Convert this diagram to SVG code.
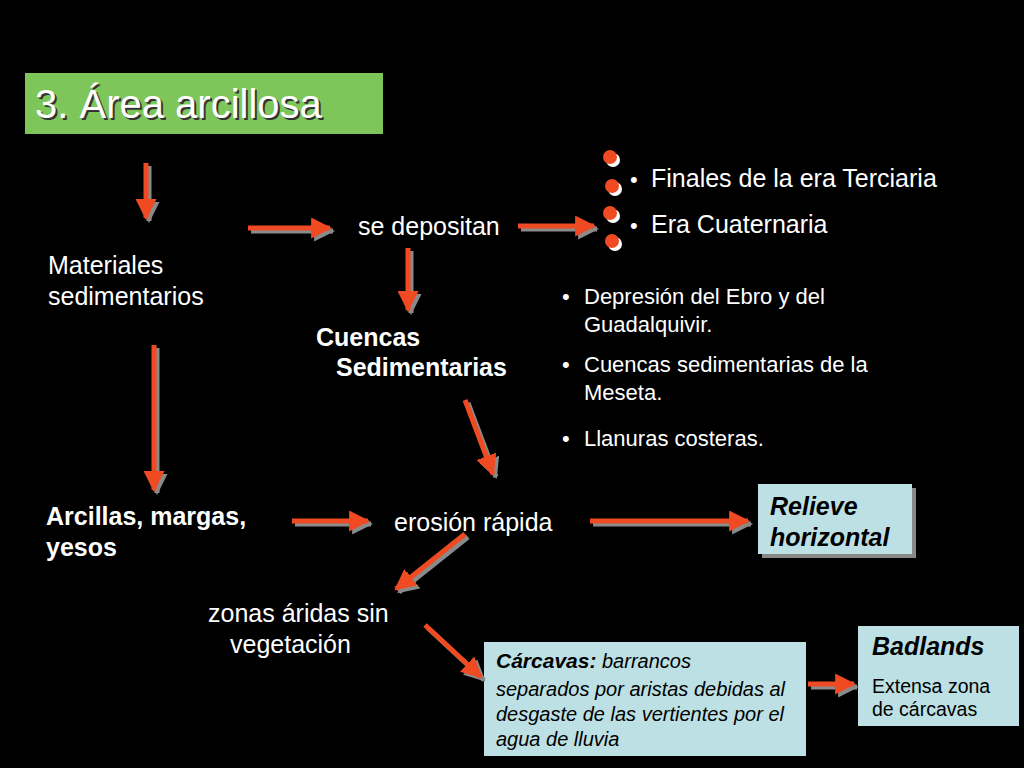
<svg xmlns="http://www.w3.org/2000/svg" width="1024" height="768" viewBox="0 0 1024 768">
<defs>
<marker id="h" viewBox="0 0 10 10" refX="9" refY="5" markerWidth="4.2" markerHeight="4.2" markerUnits="strokeWidth" orient="auto"><path d="M0,0L10,5L0,10z" fill="#f04a22"/></marker>
<marker id="hs" viewBox="0 0 10 10" refX="9" refY="5" markerWidth="4.2" markerHeight="4.2" markerUnits="strokeWidth" orient="auto"><path d="M0,0L10,5L0,10z" fill="#8a8a8a"/></marker>
</defs>
<style>
text{font-family:"Liberation Sans",Arial,sans-serif;fill:#fff}
.s{stroke:#8a8a8a;stroke-width:5;marker-end:url(#hs);fill:none}
.a{stroke:#f04a22;stroke-width:5;marker-end:url(#h);fill:none}
.t{font-size:25px}
.b{font-size:25px;font-weight:bold}
.m{font-size:22px}
.k{fill:#000}
</style>
<rect width="1024" height="768" fill="#000"/>
<g id="title"><rect x="25" y="73" width="358" height="61" fill="#7fc65a"/>
<text x="37" y="120" font-size="40" style="fill:#333">3. Área arcillosa</text>
<text x="35" y="118" font-size="40">3. Área arcillosa</text></g>
<g id="dots" fill="#fff">
<circle cx="613" cy="160" r="7"/><circle cx="615" cy="189" r="7"/><circle cx="613" cy="216" r="7"/><circle cx="615" cy="244" r="7"/>
<g fill="#f04a22"><circle cx="610" cy="157" r="7"/><circle cx="612" cy="186" r="7"/><circle cx="610" cy="213" r="7"/><circle cx="612" cy="241" r="7"/></g></g>
<g id="era"><text x="630" y="187" class="m">•</text><text x="651" y="187" class="t">Finales de la era Terciaria</text><text x="630" y="233" class="m">•</text><text x="651" y="233" class="t">Era Cuaternaria</text></g>
<g id="materiales"><text x="48" y="274" class="t">Materiales</text><text x="48" y="305" class="t">sedimentarios</text></g>
<g id="deposita"><text x="358" y="235" class="t">se depositan</text></g>
<g id="cuencas"><text x="316" y="346" class="b">Cuencas</text><text x="336" y="376" class="b">Sedimentarias</text></g>
<g id="lugares">
<text x="562" y="304" class="m">•</text><text x="584" y="304" class="m">Depresión del Ebro y del</text><text x="584" y="332" class="m">Guadalquivir.</text>
<text x="562" y="372" class="m">•</text><text x="584" y="372" class="m">Cuencas sedimentarias de la</text><text x="584" y="400" class="m">Meseta.</text>
<text x="562" y="446" class="m">•</text><text x="584" y="446" class="m">Llanuras costeras.</text></g>
<g id="arcillas"><text x="46" y="525" class="b">Arcillas, margas,</text><text x="46" y="556" class="b">yesos</text></g>
<g id="erosion"><text x="394" y="531" class="t">erosión rápida</text></g>
<g id="relieve"><rect x="762" y="488" width="154" height="70" fill="#888"/><rect x="758" y="484" width="154" height="70" fill="#bde0e4"/>
<text x="770" y="515" class="b k" font-style="italic" font-size="28">Relieve</text><text x="770" y="546" class="b k" font-style="italic" font-size="28">horizontal</text></g>
<g id="zonas"><text x="208" y="622" class="t">zonas áridas sin</text><text x="230" y="653" class="t">vegetación</text></g>
<g id="carcavas"><rect x="484" y="642" width="322" height="114" fill="#bde0e4"/>
<text x="496" y="668" class="k" font-size="20"><tspan font-weight="bold" font-style="italic" font-size="21">Cárcavas:</tspan> <tspan font-style="italic">barrancos</tspan></text>
<text x="496" y="696" class="k" font-size="20" font-style="italic">separados por aristas debidas al</text>
<text x="496" y="721" class="k" font-size="20" font-style="italic">desgaste de las vertientes por el</text>
<text x="496" y="746" class="k" font-size="20" font-style="italic">agua de lluvia</text></g>
<g id="badlands"><rect x="858" y="626" width="161" height="100" fill="#bde0e4"/>
<text x="872" y="655" class="k" font-size="25" font-weight="bold" font-style="italic">Badlands</text>
<text x="872" y="693" class="k" font-size="19.5">Extensa zona</text><text x="872" y="716" class="k" font-size="19.5">de  cárcavas</text></g>
<g id="connectors">
<g transform="translate(3,3)">
<line class="s" x1="146" y1="163" x2="146" y2="218"/><line class="s" x1="248" y1="228" x2="330" y2="228"/><line class="s" x1="408" y1="248" x2="408" y2="310"/><line class="s" x1="518" y1="226" x2="594" y2="226"/><line class="s" x1="154" y1="345" x2="154" y2="490"/><line class="s" x1="465" y1="400" x2="493" y2="474"/><line class="s" x1="292" y1="521" x2="368" y2="521"/><line class="s" x1="590" y1="521" x2="748" y2="521"/><line class="s" x1="465" y1="534" x2="396" y2="589"/><line class="s" x1="425" y1="625" x2="481" y2="677"/><line class="s" x1="808" y1="684" x2="854" y2="684"/></g>
<line class="a" x1="146" y1="163" x2="146" y2="218"/><line class="a" x1="248" y1="228" x2="330" y2="228"/><line class="a" x1="408" y1="248" x2="408" y2="310"/><line class="a" x1="518" y1="226" x2="594" y2="226"/><line class="a" x1="154" y1="345" x2="154" y2="490"/><line class="a" x1="465" y1="400" x2="493" y2="474"/><line class="a" x1="292" y1="521" x2="368" y2="521"/><line class="a" x1="590" y1="521" x2="748" y2="521"/><line class="a" x1="465" y1="534" x2="396" y2="589"/><line class="a" x1="425" y1="625" x2="481" y2="677"/><line class="a" x1="808" y1="684" x2="854" y2="684"/>
</g>
</svg>
